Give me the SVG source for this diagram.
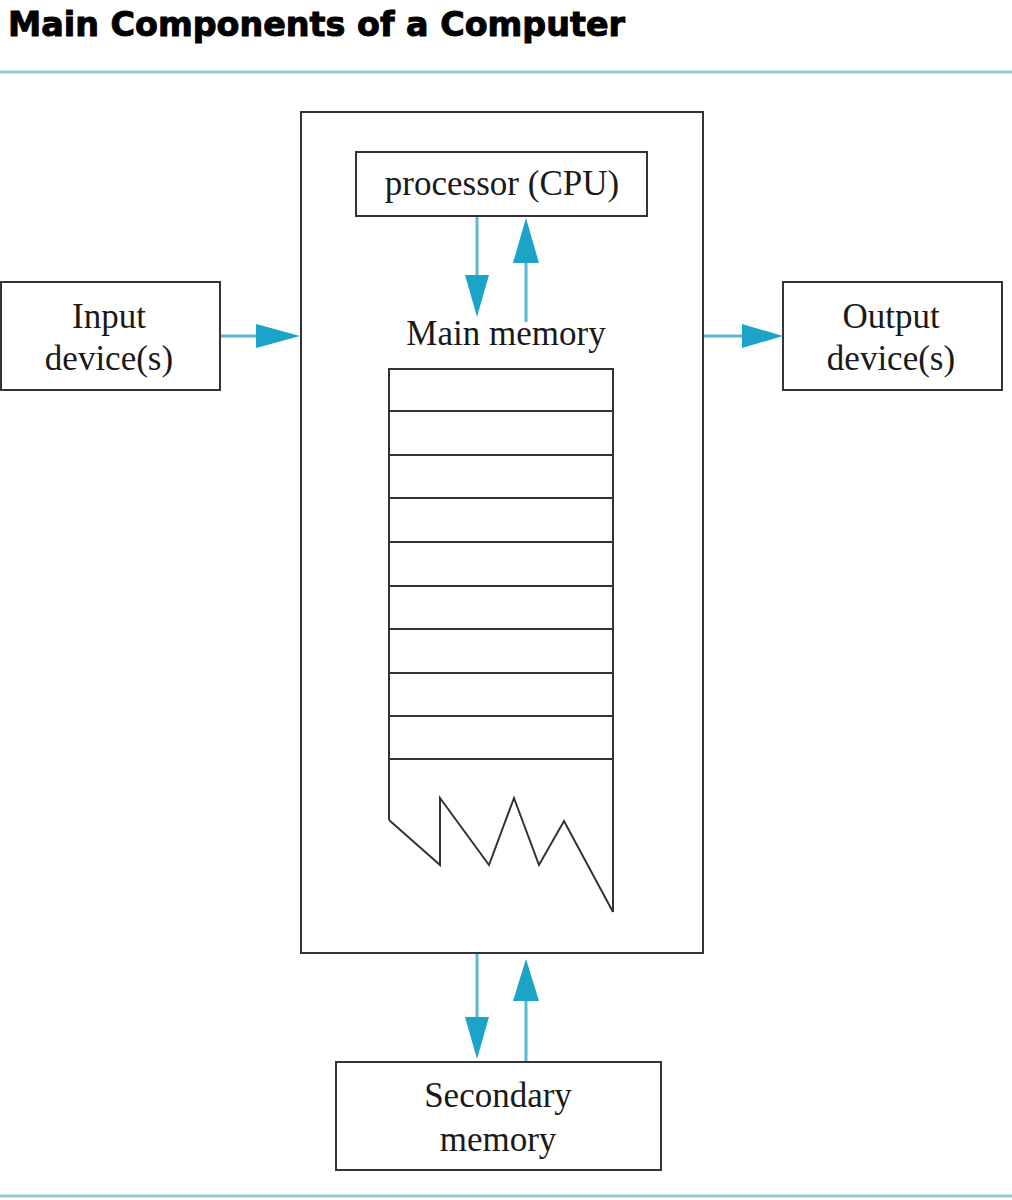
<svg xmlns="http://www.w3.org/2000/svg" width="1012" height="1200" viewBox="0 0 1012 1200">
<style>
.box{fill:#fff;stroke:#333;stroke-width:2}
.lbl{font-family:"Liberation Serif","Times New Roman",serif;font-size:35px;fill:#1a1a1a;text-anchor:middle}
.conn{stroke:#5bb8cf;stroke-width:3;fill:none}
.head{fill:#1ba3c8}
.rule{stroke:#8ec9d5;stroke-width:3}
.mem{fill:none;stroke:#333;stroke-width:2}
</style>
<rect width="1012" height="1200" fill="#fff"/>
<text x="8" y="36" font-family="DejaVu Sans, sans-serif" font-weight="bold" font-size="34" fill="#000" stroke="#000" stroke-width="1" textLength="617" lengthAdjust="spacingAndGlyphs">Main Components of a Computer</text>
<line class="rule" x1="0" y1="72" x2="1012" y2="72"/>
<line class="rule" x1="0" y1="1196" x2="1012" y2="1196"/>

<g id="main-unit">
<rect class="box" x="301" y="112" width="402" height="841"/>
</g>
<g id="processor">
<rect class="box" x="356" y="152" width="291" height="64"/>
<text class="lbl" x="502" y="195">processor (CPU)</text>
</g>
<g id="main-memory">
<text class="lbl" x="506" y="345">Main memory</text>
<g class="mem">
<polyline points="389,820 389,369 613,369 613,912"/>
<line x1="389" y1="411" x2="613" y2="411"/>
<line x1="389" y1="455" x2="613" y2="455"/>
<line x1="389" y1="498" x2="613" y2="498"/>
<line x1="389" y1="542" x2="613" y2="542"/>
<line x1="389" y1="586" x2="613" y2="586"/>
<line x1="389" y1="629" x2="613" y2="629"/>
<line x1="389" y1="673" x2="613" y2="673"/>
<line x1="389" y1="716" x2="613" y2="716"/>
<line x1="389" y1="759" x2="613" y2="759"/>
<polyline points="389,820 440,865 440,798 489,865 514,798 539,865 564,821 613,912"/>
</g>
</g>
<g id="input">
<rect class="box" x="1" y="282" width="219" height="108"/>
<text class="lbl" x="109" y="328">Input</text>
<text class="lbl" x="109" y="370">device(s)</text>
</g>
<g id="output">
<rect class="box" x="783" y="282" width="219" height="108"/>
<text class="lbl" x="891" y="328">Output</text>
<text class="lbl" x="891" y="370">device(s)</text>
</g>
<g id="secondary">
<rect class="box" x="336" y="1062" width="325" height="108"/>
<text class="lbl" x="498" y="1107">Secondary</text>
<text class="lbl" x="498" y="1151">memory</text>
</g>

<g id="connectors">
<line class="conn" x1="221" y1="336" x2="258" y2="336"/>
<polygon class="head" points="256,324 300,336 256,348"/>
<line class="conn" x1="704" y1="336" x2="744" y2="336"/>
<polygon class="head" points="742,324 783,336 742,348"/>
<line class="conn" x1="477" y1="217" x2="477" y2="278"/>
<polygon class="head" points="465,275 489,275 477,317"/>
<line class="conn" x1="526" y1="322" x2="526" y2="260"/>
<polygon class="head" points="513,263 539,263 526,218"/>
<line class="conn" x1="477" y1="954" x2="477" y2="1020"/>
<polygon class="head" points="465,1017 489,1017 477,1059"/>
<line class="conn" x1="526" y1="1061" x2="526" y2="998"/>
<polygon class="head" points="513,1001 539,1001 526,959"/>
</g>
</svg>
